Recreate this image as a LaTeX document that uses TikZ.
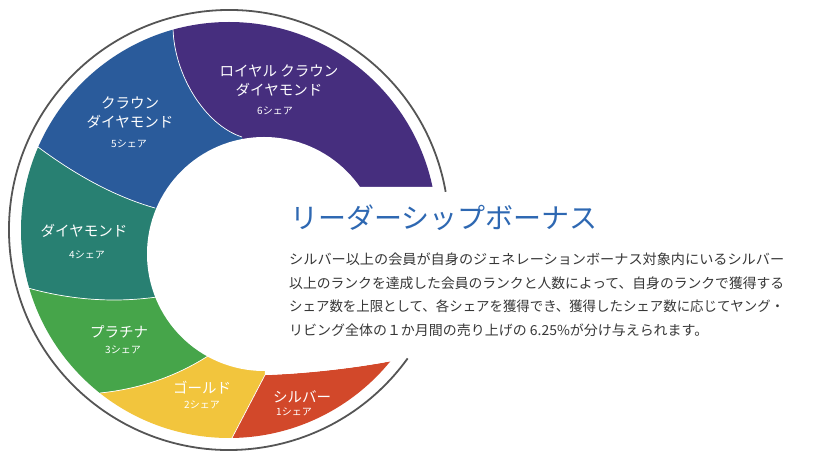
\documentclass[tikz,border=0pt]{standalone}
\usepackage{fontspec}
\setmainfont{Noto Sans CJK JP}
\usepackage{graphicx}
\definecolor{rankpurple}{RGB}{70,46,126}
\definecolor{rankblue}{RGB}{42,91,155}
\definecolor{rankteal}{RGB}{40,128,114}
\definecolor{rankgreen}{RGB}{70,165,74}
\definecolor{rankyellow}{RGB}{242,197,61}
\definecolor{rankred}{RGB}{210,72,42}
\definecolor{titleblue}{RGB}{46,104,178}
\definecolor{bodygray}{RGB}{55,55,55}
\definecolor{rimgray}{RGB}{85,85,85}

\begin{document}
\begin{tikzpicture}[x=1pt,y=1pt,
	seam/.style={white,line width=0.7pt},
	rim/.style={rimgray,line width=1.8pt}]
	\useasboundingbox (0,0) rectangle (831,471);
	% centres of the ring and of its hole
	\coordinate (c) at (229,241);
	\coordinate (h) at (264,217);
	% rank borders, outer and inner ends
	\coordinate (o6) at (173,443); \coordinate (i6) at (242,334);
	\coordinate (o5) at (38,324);  \coordinate (i5) at (155,263);
	\coordinate (o4) at (28,183);  \coordinate (i4) at (157,174);
	\coordinate (o3) at (100,78);  \coordinate (i3) at (208,115);
	\coordinate (o2) at (232,33);  \coordinate (i2) at (265,96);
	\coordinate (t) at (392,110);

	\begin{scope}
		\clip (c) circle (208);
		\fill[rankpurple] (i6) .. controls (205,346) and (174,396) .. (o6) -- (156,504) -- (500,504) -- (500,284) -- (264,284) -- (h) -- cycle;
		\fill[rankblue] (i6) .. controls (205,346) and (174,396) .. (o6) -- (156,504) -- (-19,349) -- (o5) .. controls (77,295) and (116,274) .. (i5) -- (h) -- cycle;
		\fill[rankteal] (i5) .. controls (116,274) and (77,295) .. (o5) -- (-19,349) -- (-32,166) -- (o4) .. controls (71,171) and (114,168) .. (i4) -- (h) -- cycle;
		\fill[rankgreen] (i4) .. controls (114,168) and (71,171) .. (o4) -- (-32,166) -- (61,29) -- (o3) .. controls (139,82) and (175,94) .. (i3) -- (h) -- cycle;
		\fill[rankyellow] (i3) .. controls (175,94) and (139,82) .. (o3) -- (61,29) -- (233,-29) -- (o2) .. controls (243,54) and (254,75) .. (i2) -- (h) -- cycle;
		\fill[rankred] (i2) .. controls (254,75) and (243,54) .. (o2) -- (233,-29) -- (480,-29) -- (480,110) -- (t) .. controls (350,102) and (300,97) .. (i2) -- cycle;
		% the hole and the text panel
		\fill[white] (h) circle (117);
		\fill[white] (i2) .. controls (300,97) and (350,102) .. (t) -- (480,110) -- (480,284) -- (264,284) -- (h) -- cycle;
	\end{scope}

	\draw[seam] (o6) .. controls (174,396) and (205,346) .. (i6);
	\draw[seam] (o5) .. controls (77,295) and (116,274) .. (i5);
	\draw[seam] (o4) .. controls (71,171) and (114,168) .. (i4);
	\draw[seam] (o3) .. controls (139,82) and (175,94) .. (i3);
	\draw[seam] (o2) .. controls (243,54) and (254,75) .. (i2);

	\draw[rim] (c) ++(10:220) arc[start angle=10,end angle=324.3,radius=220];

	\begin{scope}[every node/.style={white,align=center,inner sep=0pt,font=\fontsize{14.5}{19}\selectfont}]
		\node (rank6) at (279,390) {ロイヤル クラウン\\ダイヤモンド};
		\node (rank5) at (130,358) {クラウン\\ダイヤモンド};
		\node (rank4) at (84,240) {ダイヤモンド};
		\node (rank3) at (119,139) {プラチナ};
		\node (rank2) at (202,83) {ゴールド};
		\node (rank1) at (302,74) {シルバー};
	\end{scope}
	\begin{scope}[every node/.style={white,inner sep=0pt,font=\fontsize{10}{12}\selectfont}]
		\node (share6) at (275,360) {6シェア};
		\node (share5) at (129,327) {5シェア};
		\node (share4) at (87,216) {4シェア};
		\node (share3) at (123,121) {3シェア};
		\node (share2) at (202,66) {2シェア};
		\node (share1) at (294,59) {1シェア};
	\end{scope}

	\node[titleblue,anchor=west,inner sep=0pt,font=\fontsize{28}{32}\selectfont] (title) at (290,253) {リーダーシップボーナス};
	\begin{scope}[every node/.style={bodygray,anchor=west,inner sep=0pt,font=\fontsize{13.8}{17}\selectfont}]
		\node (line1) at (289,212) {\resizebox{495pt}{\height}{シルバー以上の会員が自身のジェネレーションボーナス対象内にいるシルバー}};
		\node (line2) at (289,188) {\resizebox{495pt}{\height}{以上のランクを達成した会員のランクと人数によって、自身のランクで獲得する}};
		\node (line3) at (289,165) {\resizebox{495pt}{\height}{シェア数を上限として、各シェアを獲得でき、獲得したシェア数に応じてヤング・}};
		\node (line4) at (289,141) {\resizebox{419pt}{\height}{リビング全体の１か月間の売り上げの 6.25\%が分け与えられます。}};
	\end{scope}
\end{tikzpicture}
\end{document}
